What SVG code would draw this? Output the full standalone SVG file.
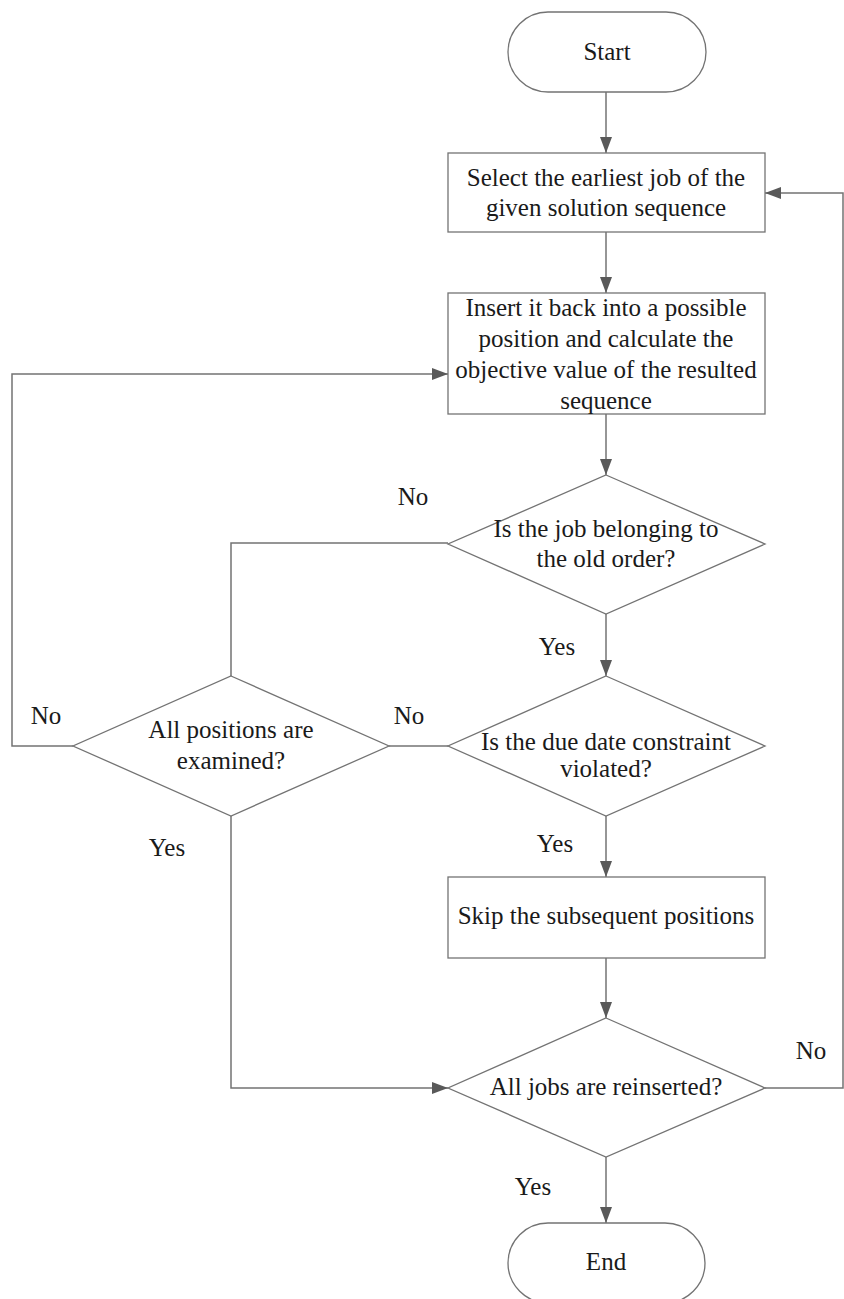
<svg xmlns="http://www.w3.org/2000/svg" width="844" height="1299" viewBox="0 0 844 1299">
<defs>
<marker id="ah" markerWidth="16" markerHeight="12" refX="16" refY="6" orient="auto" markerUnits="userSpaceOnUse" viewBox="0 0 16 12">
<path d="M0,0 L16,6 L0,12 Z" fill="#595959"/>
</marker>
<style>
.shape{fill:#fff;stroke:#737373;stroke-width:1.3}
.c{fill:none;stroke:#737373;stroke-width:1.5}
.a{marker-end:url(#ah)}
</style>
</defs>
<g id="connectors">
<line class="c a" x1="606" y1="92" x2="606" y2="153"/>
<line class="c a" x1="606" y1="232" x2="606" y2="293"/>
<line class="c a" x1="606" y1="414" x2="606" y2="475"/>
<line class="c a" x1="606" y1="614" x2="606" y2="676"/>
<line class="c a" x1="606" y1="816" x2="606" y2="877"/>
<line class="c a" x1="606" y1="958" x2="606" y2="1018"/>
<line class="c a" x1="606" y1="1157" x2="606" y2="1223"/>
<polyline class="c" points="448,543 231,543 231,676"/>
<line class="c" x1="389" y1="746" x2="448" y2="746"/>
<polyline class="c a" points="73,746 12,746 12,374 448,374"/>
<polyline class="c a" points="231,816 231,1088 448,1088"/>
<polyline class="c a" points="765,1088 843,1088 843,193 765,193"/>
</g>
<g font-family="Liberation Serif, Times New Roman, serif" font-size="25" fill="#1a1a1a" text-anchor="middle">
<g id="start"><rect class="shape" x="508" y="12" width="198" height="80" rx="40" ry="40"/><text x="607" y="60">Start</text></g>
<g id="select"><rect class="shape" x="448" y="153" width="317" height="79"/><text x="606" y="186">Select the earliest job of the</text><text x="606" y="216">given solution sequence</text></g>
<g id="insert"><rect class="shape" x="448" y="293" width="317" height="121"/><text x="606" y="316">Insert it back into a possible</text><text x="606" y="347">position and calculate the</text><text x="606" y="378">objective value of the resulted</text><text x="606" y="409">sequence</text></g>
<g id="oldorder"><polygon class="shape" points="606,475 765,544 606,614 448,544"/><text x="606" y="537">Is the job belonging to</text><text x="606" y="567">the old order?</text></g>
<g id="examined"><polygon class="shape" points="231,676 389,746 231,816 73,746"/><text x="231" y="738">All positions are</text><text x="231" y="769">examined?</text></g>
<g id="duedate"><polygon class="shape" points="606,676 765,746 606,816 448,746"/><text x="606" y="750">Is the due date constraint</text><text x="606" y="777">violated?</text></g>
<g id="skip"><rect class="shape" x="448" y="877" width="317" height="81"/><text x="606" y="924">Skip the subsequent positions</text></g>
<g id="reinserted"><polygon class="shape" points="606,1018 765,1088 606,1157 448,1088"/><text x="606" y="1095">All jobs are reinserted?</text></g>
<g id="end"><rect class="shape" x="508" y="1223" width="197" height="80" rx="40" ry="40"/><text x="606" y="1270">End</text></g>
<g id="labels">
<text x="413" y="505">No</text>
<text x="557" y="655">Yes</text>
<text x="46" y="724">No</text>
<text x="409" y="724">No</text>
<text x="167" y="856">Yes</text>
<text x="555" y="852">Yes</text>
<text x="811" y="1059">No</text>
<text x="533" y="1195">Yes</text>
</g>
</g>
</svg>
